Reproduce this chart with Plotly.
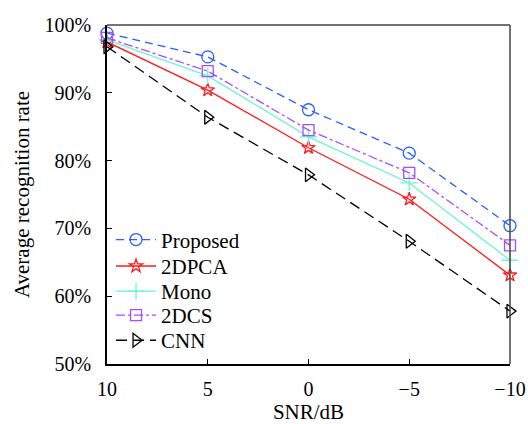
import plotly.graph_objects as go

snr = [10, 5, 0, -5, -10]
x_ticks = [10, 5, 0, -5, -10]
proposed = [98.8, 95.3, 87.5, 81.1, 70.4]
pca2d = [97.5, 90.4, 81.9, 74.3, 63.1]
mono = [97.8, 92.5, 83.5, 76.7, 65.3]
cs2d = [98.1, 93.2, 84.5, 78.2, 67.5]
cnn = [96.8, 86.4, 77.9, 68.1, 57.8]

series = [
    ("Proposed", proposed, "#2a5fff", "8px,5px", "circle-open", 12),
    ("2DPCA", pca2d, "#ff1a1a", "solid", "star-open", 10),
    ("Mono", mono, "#6cf5cf", "solid", "cross-thin-open", 12),
    ("2DCS", cs2d, "#a64dff", "dashdot", "square-open", 11),
    ("CNN", cnn, "#000000", "11px,6px", "triangle-right-open", 12),
]
legend_names = ["legend", "legend2", "legend3", "legend4", "legend5"]
legend_y = [0.366, 0.288, 0.214, 0.143, 0.069]

fam = "Liberation Serif, Times New Roman, serif"
font = dict(family=fam, size=21, color="black")
tfont = dict(family=fam, size=20, color="black")
lfont = dict(family=fam, size=21, color="black")

fig = go.Figure()
for (name, vals, color, dash, sym, size), lg in zip(series, legend_names):
    fig.add_trace(go.Scatter(
        x=snr, y=vals, name=name, mode="lines+markers", legend=lg,
        line=dict(color=color, width=1.3, dash=dash),
        marker=dict(symbol=sym, size=size, color=color, line=dict(color=color, width=1.3)),
        cliponaxis=False,
    ))

legends = {}
for lg, ly in zip(legend_names, legend_y):
    legends[lg] = dict(x=0.01, y=ly, xanchor="left", yanchor="middle",
                       bgcolor="rgba(0,0,0,0)", font=lfont, itemwidth=40)

fig.update_layout(
    width=528, height=424,
    margin=dict(l=107, r=18, t=25, b=60),
    paper_bgcolor="white", plot_bgcolor="white",
    font=font,
    showlegend=True,
    **legends,
    xaxis=dict(range=[10, -10], tickvals=x_ticks, ticks="inside", ticklen=5,
               tickcolor="black", showgrid=False, zeroline=False,
               showline=True, linecolor="black", linewidth=1.5,
               ticklabelstandoff=6, automargin=False, ticklabeloverflow="allow",
               title=dict(text="SNR/dB", standoff=9, font=font), tickfont=tfont),
    yaxis=dict(range=[50, 100], dtick=10, ticksuffix="%", ticks="inside", ticklen=5,
               tickcolor="black", showgrid=False, zeroline=False,
               showline=True, linecolor="black", linewidth=1.5,
               ticklabelstandoff=10, automargin=False, ticklabeloverflow="allow",
               title=dict(text="Average recognition rate", standoff=9, font=font), tickfont=tfont),
)
fig.add_shape(type="line", xref="paper", yref="paper", x0=0, x1=1, y0=1, y1=1,
              line=dict(color="#444444", width=1.5))
fig.add_shape(type="line", xref="paper", yref="paper", x0=1, x1=1, y0=0, y1=1,
              line=dict(color="#444444", width=1.5))
fig.write_html(
    "out.html",
    config={"displayModeBar": False},
    post_script="document.body.style.margin='0';document.documentElement.style.overflow='hidden';document.body.style.overflow='hidden';",
)
